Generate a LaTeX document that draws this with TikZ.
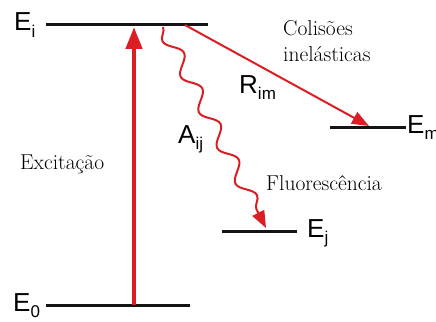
\documentclass[tikz,border=0pt]{standalone}
\usepackage{fontspec}
\setsansfont{Liberation Sans}
\usepackage{tikz}
\usetikzlibrary{arrows.meta,positioning,calc,decorations.pathmorphing}
\definecolor{LevelRed}{RGB}{218,30,36}
\definecolor{LevelBlack}{RGB}{20,20,20}
\newcommand{\lvlname}[2]{\sffamily\fontsize{26}{26}\selectfont #1\raisebox{-0.25em}{\fontsize{17}{17}\selectfont #2}}

\begin{document}
\begin{tikzpicture}[x=1pt,y=-1pt,
 level/.style={draw=LevelBlack,line width=3pt},
 lbl/.style={inner sep=0pt,anchor=base west},
 txt/.style={inner sep=0pt,anchor=base west,font=\fontsize{21.5}{26}\selectfont,align=left},
 pump/.style={-{Triangle[length=22pt,width=16pt]},draw=LevelRed,line width=4.5pt},
 decay/.style={-{Triangle[length=17pt,width=13pt]},draw=LevelRed,line width=2pt}]
\useasboundingbox (0,0) rectangle (436,321);
% levels
\coordinate (Ei-l) at (46,25);  \coordinate (Ei-r) at (208,25);
\coordinate (E0-l) at (46,305); \coordinate (E0-r) at (190,305);
\coordinate (Ej-l) at (222,231); \coordinate (Ej-r) at (297,231);
\coordinate (Em-l) at (330,127); \coordinate (Em-r) at (406,127);
\draw[level] (Ei-l) -- (Ei-r);
\draw[level] (E0-l) -- (E0-r);
\draw[level] (Ej-l) -- (Ej-r);
\draw[level] (Em-l) -- (Em-r);
\node[lbl] (Ei) at (14,31) {\lvlname{E}{i}};
\node[lbl] (E0) at (13,311) {\lvlname{E}{0}};
\node[lbl] (Ej) at (307,237) {\lvlname{E}{j}};
\node[lbl] (Em) at (407,133) {\lvlname{E}{m}};
% transitions
\coordinate (exc-a) at (134,305); \coordinate (exc-b) at (134,27);
\coordinate (col-a) at (185,25);  \coordinate (col-b) at (369,126);
\coordinate (fl-a) at (163,27);   \coordinate (fl-b) at (266,228);
\draw[pump] (exc-a) -- (exc-b);
\draw[decay] (col-a) -- (col-b);
\draw[decay,decoration={snake,amplitude=-7pt,segment length=40pt,post length=20pt},decorate] (fl-a) -- (fl-b);
% labels
\node[lbl] (Rim) at (239,93) {\lvlname{R}{im}};
\node[lbl] (Aij) at (178,143) {\lvlname{A}{ij}};
\node[txt] (col) at (283,62) {Colisões\\inelásticas};
\node[txt] (exc) at (20,169) {Excitação};
\node[txt] (fl) at (266,190) {Fluorescência};
\end{tikzpicture}
\end{document}
